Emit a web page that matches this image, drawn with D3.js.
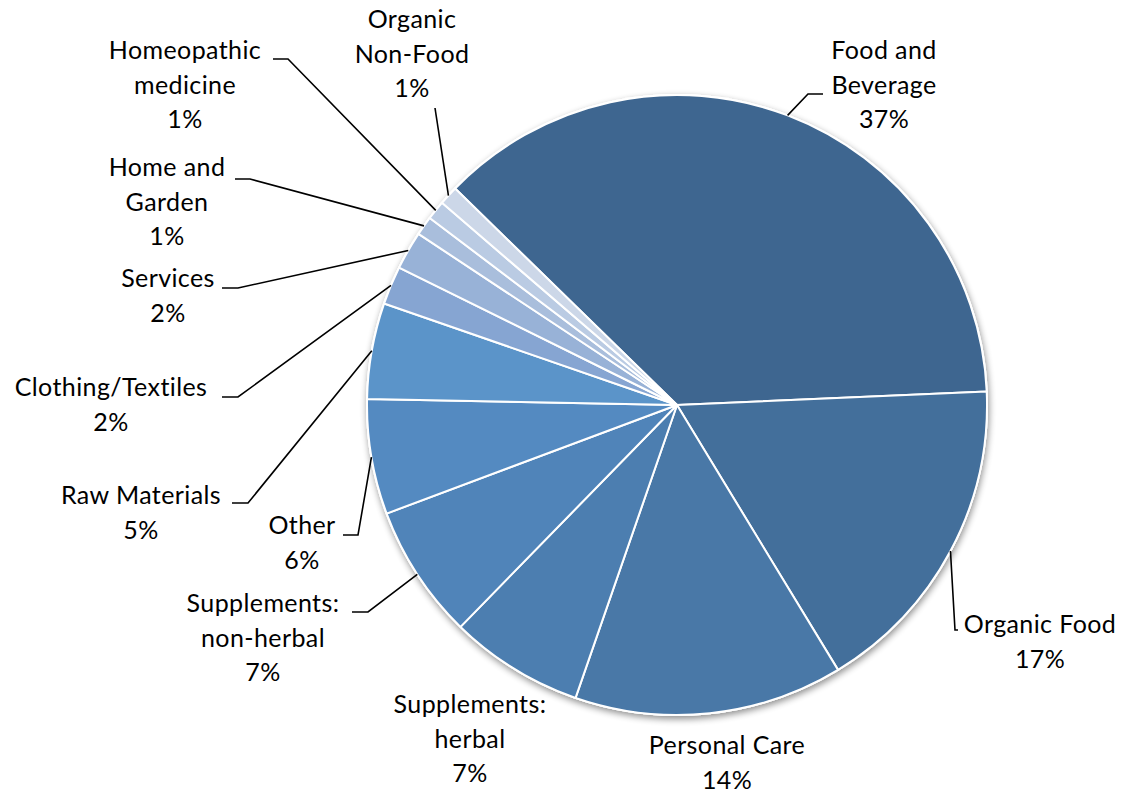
<!DOCTYPE html>
<html>
<head>
<meta charset="utf-8">
<script src="https://cdn.jsdelivr.net/npm/d3@7"></script>
<style>
  html, body { margin: 0; padding: 0; background: #ffffff; }
  svg { display: block; }
  text { font-family: Lato, "Open Sans", "Liberation Sans", sans-serif; fill: #000; }
</style>
</head>
<body>
<svg id="chart" width="1123" height="793"></svg>
<script>
// Share of companies by product category
const categories = [
  "Food and Beverage", "Organic Food", "Personal Care", "Supplements: herbal",
  "Supplements: non-herbal", "Other", "Raw Materials", "Clothing/Textiles",
  "Services", "Home and Garden", "Homeopathic medicine", "Organic Non-Food"
];
const values = [37, 17, 14, 7, 7, 6, 5, 2, 2, 1, 1, 1];
const labelLines = [
  ["Food and", "Beverage"], ["Organic Food"], ["Personal Care"], ["Supplements:", "herbal"],
  ["Supplements:", "non-herbal"], ["Other"], ["Raw Materials"], ["Clothing/Textiles"],
  ["Services"], ["Home and", "Garden"], ["Homeopathic", "medicine"], ["Organic", "Non-Food"]
];
const colors = [
  "#3e6690", "#436f9b", "#4978a7", "#4c7eb0", "#5084b9", "#548ac1",
  "#5b94c9", "#86a5d2", "#98b2d7", "#a9bedc", "#bacbe3", "#ccd7e8"
];

// Label placement: text centre x, first baseline y, and leader route (elbow, end) if any
const labelLayout = [
  { x: 884,  y: 59,  leader: [[808, 94], [823, 94]] },
  { x: 1040, y: 633, leader: [[955, 630], [958, 630]] },
  { x: 727,  y: 754, leader: null },
  { x: 470,  y: 713, leader: null },
  { x: 263,  y: 612, leader: [[368, 612], [352, 612]] },
  { x: 302,  y: 534, leader: [[358, 535], [343, 535]] },
  { x: 141,  y: 504, leader: [[248, 503], [232, 503]] },
  { x: 111,  y: 396, leader: [[238, 397], [222, 397]] },
  { x: 168,  y: 287, leader: [[238, 288], [222, 288]] },
  { x: 167,  y: 176, leader: [[250, 179], [235, 179]] },
  { x: 185,  y: 59,  leader: [[288, 59], [273, 59]] },
  { x: 412,  y: 28,  leader: [[435, 108]] }
];

const cx = 677, cy = 405, radius = 310;
const startDeg = -45.7;
const lineGap = 34.5;

const svg = d3.select("#chart");
const defs = svg.append("defs");
const shadow = defs.append("filter").attr("id", "pieShadow")
  .attr("x", "-10%").attr("y", "-10%").attr("width", "120%").attr("height", "120%");
shadow.append("feGaussianBlur").attr("in", "SourceAlpha").attr("stdDeviation", 3.5).attr("result", "blur");
shadow.append("feOffset").attr("in", "blur").attr("dx", 1).attr("dy", 3).attr("result", "off");
shadow.append("feComponentTransfer").attr("in", "off").attr("result", "soft")
  .append("feFuncA").attr("type", "linear").attr("slope", 0.45);
const merge = shadow.append("feMerge");
merge.append("feMergeNode").attr("in", "soft");
merge.append("feMergeNode").attr("in", "SourceGraphic");

const data = categories.map((c, i) => ({ name: c, value: values[i], lines: labelLines[i], color: colors[i], layout: labelLayout[i] }));

const pie = d3.pie()
  .value(d => d.value)
  .sort(null)
  .startAngle(startDeg * Math.PI / 180)
  .endAngle((startDeg + 360) * Math.PI / 180);
const arcs = pie(data);
const arc = d3.arc().innerRadius(0).outerRadius(radius);

const g = svg.append("g").attr("transform", `translate(${cx},${cy})`);

// White backing disc carries the soft shadow
g.append("circle").attr("r", radius + 1).attr("fill", "#fff").attr("filter", "url(#pieShadow)");

g.selectAll("path.slice")
  .data(arcs)
  .join("path")
  .attr("class", "slice")
  .attr("d", arc)
  .attr("fill", d => d.data.color)
  .attr("stroke", "#ffffff")
  .attr("stroke-width", 2)
  .attr("stroke-linejoin", "round");

// Leader lines start at each slice's mid-angle on the rim
const leaders = svg.append("g");
arcs.forEach(a => {
  const lay = a.data.layout;
  if (!lay.leader) return;
  const mid = (a.startAngle + a.endAngle) / 2;
  const p0 = [cx + radius * Math.sin(mid), cy - radius * Math.cos(mid)];
  const pts = [p0].concat(lay.leader);
  leaders.append("path")
    .attr("d", d3.line()(pts))
    .attr("fill", "none")
    .attr("stroke", "#000")
    .attr("stroke-width", 1.6);
});

// Category labels with percentage
const labels = svg.append("g");
arcs.forEach(a => {
  const d = a.data, lay = d.layout;
  const t = labels.append("text")
    .attr("text-anchor", "middle")
    .attr("font-size", 25)
    .attr("letter-spacing", 0.4);
  const all = d.lines.concat([d.value + "%"]);
  all.forEach((ln, i) => {
    t.append("tspan").attr("x", lay.x).attr("y", lay.y + i * lineGap).text(ln);
  });
});
</script>
</body>
</html>
